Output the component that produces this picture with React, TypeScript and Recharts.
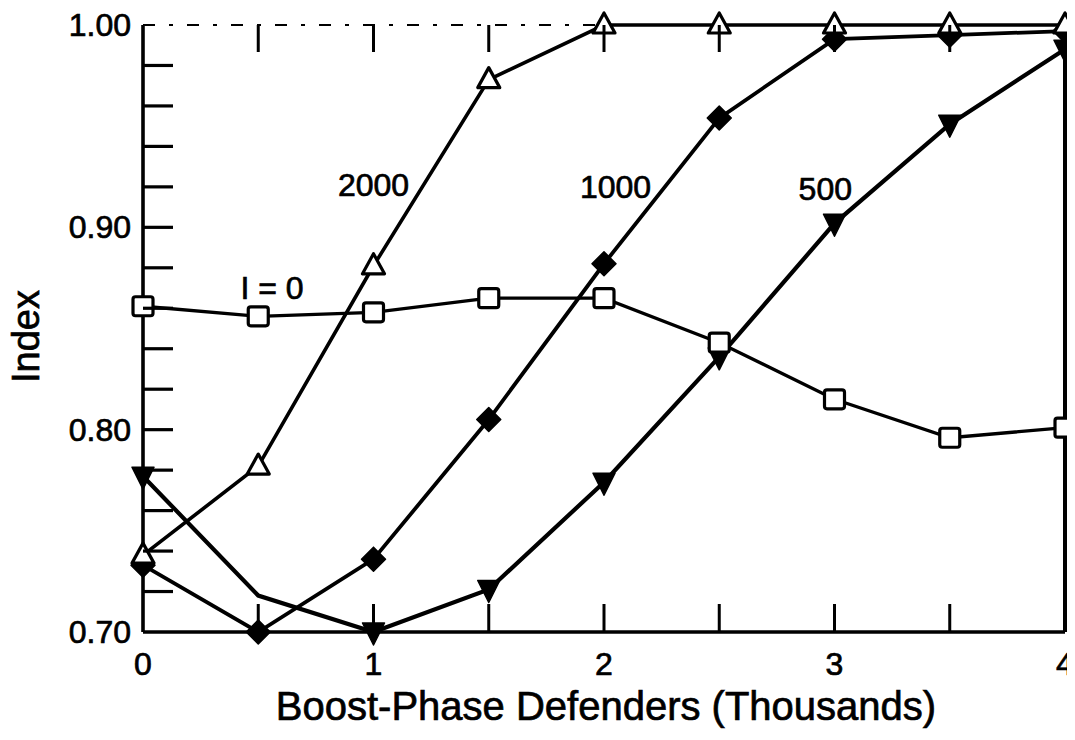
import { Line, LineChart, ReferenceDot, XAxis, YAxis } from 'recharts';

// Boost-phase defenders (thousands) on the x axis
const defenders = [0, 0.5, 1, 1.5, 2, 2.5, 3, 3.5, 4];

// Index values per number of layer defenders
const index500 = [0.777, 0.718, 0.7, 0.721, 0.774, 0.836, 0.902, 0.951, 0.988];
const index1000 = [0.733, 0.7, 0.736, 0.805, 0.882, 0.954, 0.993, 0.995, 0.997];
const index2000 = [0.738, 0.782, 0.881, 0.973, 1.0, 1.0, 1.0, 1.0, 1.0];
const indexI0 = [0.861, 0.856, 0.858, 0.865, 0.865, 0.843, 0.815, 0.796, 0.801];

// Points where the 500 curve bends without a printed marker
const unmarked500 = [0.5];

// Ticks
const xTicks = [0, 0.5, 1, 1.5, 2, 2.5, 3, 3.5, 4];
const xLabels = [0, 1, 2, 3, 4];
const yTicks = [0.7, 0.72, 0.74, 0.76, 0.78, 0.8, 0.82, 0.84, 0.86, 0.88, 0.9, 0.92, 0.94, 0.96, 0.98, 1.0];
const yLabels = [0.7, 0.8, 0.9, 1.0];

// Curve annotations
const curveLabels = [
  { text: '2000', x: 1.0, y: 0.921 },
  { text: '1000', x: 2.05, y: 0.92 },
  { text: '500', x: 2.96, y: 0.919 },
  { text: 'I = 0', x: 0.56, y: 0.87 },
];

const rows = defenders.map((d, i) => ({
  d,
  s500: index500[i],
  s1000: index1000[i],
  s2000: index2000[i],
  s0: indexI0[i],
}));

const FONT = '"Liberation Sans", Arial, Helvetica, sans-serif';
const INK = '#000';
const TICK_LEN = 30;
// a thin outline makes the regular face look like the heavier print
const textInk = { fill: INK, stroke: INK, strokeWidth: 0.7, fontFamily: FONT };

const LeftTick = (props: any) => {
  const { x, y, payload } = props;
  const v = payload.value;
  const edge = v === yTicks[0] || v === yTicks[yTicks.length - 1];
  return (
    <g>
      {!edge && <line x1={x} x2={x + TICK_LEN} y1={y} y2={y} stroke={INK} strokeWidth={3.2} />}
      {yLabels.includes(v) && (
        <text x={x - 12} y={y} dy={11} textAnchor="end" fontSize={32} {...textInk}>
          {v.toFixed(2)}
        </text>
      )}
    </g>
  );
};

const RightTick = (props: any) => {
  const { x, y, payload } = props;
  const v = payload.value;
  if (v === yTicks[0] || v === yTicks[yTicks.length - 1]) return <g />;
  return <line x1={x} x2={x - TICK_LEN} y1={y} y2={y} stroke={INK} strokeWidth={3.2} />;
};

const BottomTick = (props: any) => {
  const { x, y, payload } = props;
  const v = payload.value;
  const edge = v === xTicks[0] || v === xTicks[xTicks.length - 1];
  return (
    <g>
      {!edge && <line x1={x} x2={x} y1={y} y2={y - 28} stroke={INK} strokeWidth={3} />}
      {xLabels.includes(v) && (
        <text x={x} y={y + 43} textAnchor="middle" fontSize={32} {...textInk}>
          {v}
        </text>
      )}
    </g>
  );
};

const TopTick = (props: any) => {
  const { x, y, payload } = props;
  const v = payload.value;
  if (v === xTicks[0] || v === xTicks[xTicks.length - 1]) return <g />;
  return <line x1={x} x2={x} y1={y} y2={y + 27} stroke={INK} strokeWidth={3} />;
};

const SquareDot = (props: any) => {
  const { cx, cy, index } = props;
  if (cx == null || cy == null) return <g key={index} />;
  return (
    <rect key={index} x={cx - 10} y={cy - 9.5} width={20} height={19} rx={2.5}
      fill="#fff" stroke={INK} strokeWidth={3.2} />
  );
};

const OpenTriangleDot = (props: any) => {
  const { cx, cy, index } = props;
  if (cx == null || cy == null) return <g key={index} />;
  return (
    <polygon key={index}
      points={`${cx},${cy - 12} ${cx - 11},${cy + 8} ${cx + 11},${cy + 8}`}
      fill="#fff" stroke={INK} strokeWidth={3.2} strokeLinejoin="round" />
  );
};

const DiamondDot = (props: any) => {
  const { cx, cy, index } = props;
  if (cx == null || cy == null) return <g key={index} />;
  return (
    <polygon key={index}
      points={`${cx},${cy - 12} ${cx + 12},${cy} ${cx},${cy + 12} ${cx - 12},${cy}`}
      fill={INK} stroke={INK} strokeWidth={1.5} strokeLinejoin="round" />
  );
};

const DownTriangleDot = (props: any) => {
  const { cx, cy, index, payload } = props;
  if (cx == null || cy == null || unmarked500.includes(payload.d)) return <g key={index} />;
  return (
    <polygon key={index}
      points={`${cx - 11},${cy - 9} ${cx + 11},${cy - 9} ${cx},${cy + 13}`}
      fill={INK} stroke={INK} strokeWidth={1.5} strokeLinejoin="round" />
  );
};

const CurveText = (text: string) => (props: any) => (
  <text x={props.cx} y={props.cy} dy={11} textAnchor="middle" fontSize={32} {...textInk}>
    {text}
  </text>
);

const YTitle = (props: any) => {
  const vb = props.viewBox;
  const cx = vb.x + 18;
  const cy = vb.y + vb.height / 2 + 8;
  return (
    <text x={cx} y={cy} transform={`rotate(-90, ${cx}, ${cy})`} dy={13} textAnchor="middle"
      fontSize={38} {...textInk}>
      Index
    </text>
  );
};

const XTitle = (props: any) => {
  const vb = props.viewBox;
  return (
    <text x={vb.x + vb.width / 2 + 2} y={vb.y + vb.height - 10} textAnchor="middle"
      fontSize={40} {...textInk}>
      Boost-Phase Defenders (Thousands)
    </text>
  );
};

export default function App() {
  return (
    <div style={{ background: '#fff', width: 1067, height: 722 }}>
      <style>{'.recharts-surface { overflow: visible; }'}</style>
      <LineChart
        width={1067}
        height={722}
        data={rows}
        margin={{ top: 10, right: 0, bottom: 0, left: 0 }}
      >
        <XAxis
          dataKey="d"
          type="number"
          domain={[0, 4]}
          ticks={xTicks}
          interval={0}
          tickSize={0}
          tickMargin={0}
          tickLine={false}
          tick={BottomTick}
          height={98}
          axisLine={{ stroke: INK, strokeWidth: 3.4 }}
          label={{ content: XTitle }}
        />
        <XAxis
          xAxisId="top"
          orientation="top"
          dataKey="d"
          type="number"
          domain={[0, 4]}
          ticks={xTicks}
          interval={0}
          tickSize={0}
          tickMargin={0}
          tickLine={false}
          tick={TopTick}
          height={7}
          axisLine={{ stroke: INK, strokeWidth: 2.2, strokeDasharray: '12 14 4 14' }}
        />
        <YAxis
          type="number"
          domain={[0.7, 1.0]}
          ticks={yTicks}
          interval={0}
          tickSize={0}
          tickMargin={0}
          tickLine={false}
          tick={LeftTick}
          width={135}
          axisLine={{ stroke: INK, strokeWidth: 3.6 }}
          label={{ content: YTitle }}
        />
        <YAxis
          yAxisId="right"
          orientation="right"
          type="number"
          domain={[0.7, 1.0]}
          ticks={yTicks}
          interval={0}
          tickSize={0}
          tickMargin={0}
          tickLine={false}
          tick={RightTick}
          width={10}
          axisLine={{ stroke: INK, strokeWidth: 4 }}
        />

        <Line dataKey="s500" stroke={INK} strokeWidth={4.2} dot={DownTriangleDot}
          activeDot={false} isAnimationActive={false} />
        <Line dataKey="s1000" stroke={INK} strokeWidth={3.8} dot={DiamondDot}
          activeDot={false} isAnimationActive={false} />
        <Line dataKey="s2000" stroke={INK} strokeWidth={3.6} dot={OpenTriangleDot}
          activeDot={false} isAnimationActive={false} />
        <Line dataKey="s0" stroke={INK} strokeWidth={3.3} dot={SquareDot}
          activeDot={false} isAnimationActive={false} />

        {curveLabels.map((c) => (
          <ReferenceDot key={c.text} x={c.x} y={c.y} r={0} shape={CurveText(c.text)} />
        ))}
      </LineChart>
    </div>
  );
}
